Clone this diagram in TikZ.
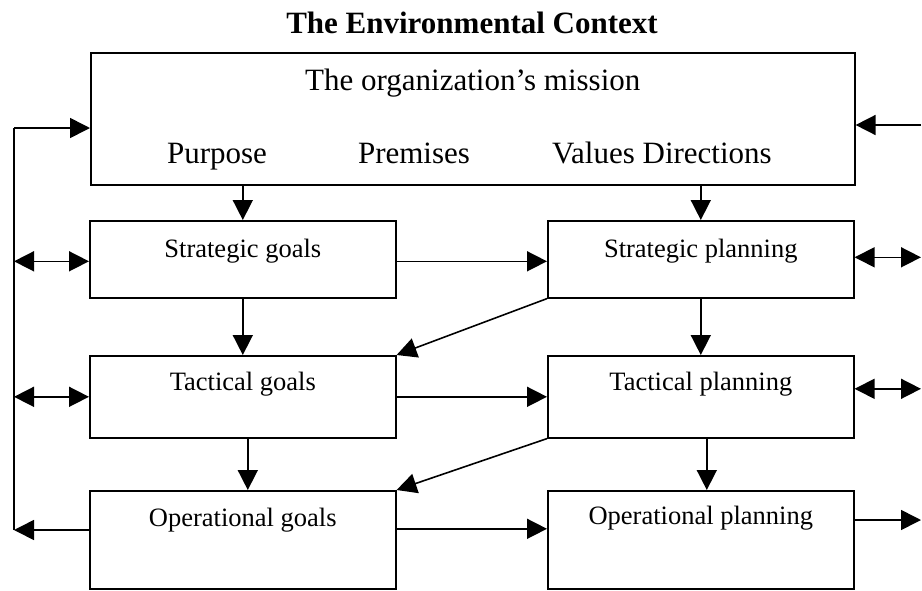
\documentclass[tikz,border=0pt]{standalone}
\usepackage{fontspec}
\setmainfont{Liberation Serif}
\usepackage{tikz}
\usetikzlibrary{arrows.meta}
\tikzset{>={Triangle[length=20pt,width=20pt]}}
\tikzstyle{bigtext} = [font=\fontsize{31}{36}\selectfont, inner sep=0pt]
\tikzstyle{plainbox} = [draw, line width=1.6pt, inner sep=0pt,
    minimum width=306pt, anchor=north west,
    font=\fontsize{26.5}{30}\selectfont]

\begin{document}
\begin{tikzpicture}[x=1pt, y=-1pt, line width=1.6pt]
    \useasboundingbox (0,0) rectangle (922,590);
    %title
    \node[bigtext, font=\fontsize{31}{36}\selectfont\bfseries, anchor=base] (title) at (472,33) {The Environmental Context};
    %mission
    \node[bigtext, draw, anchor=north west, minimum width=764pt,
        text height=38pt, text depth=94pt] (mission) at (90,52) {The organization’s mission};
    \node[bigtext, anchor=base] (purpose) at (217,163) {Purpose};
    \node[bigtext, anchor=base] (premises) at (414,163) {Premises};
    \node[bigtext, anchor=base] (values) at (662,163) {Values Directions};
    %boxes
    \node[plainbox, text height=37pt, text depth=40pt] (SG) at (89,220) {Strategic goals};
    \node[plainbox, text height=37pt, text depth=40pt] (SP) at (547,220) {Strategic planning};
    \node[plainbox, text height=35pt, text depth=47pt] (TG) at (89,355) {Tactical goals};
    \node[plainbox, text height=35pt, text depth=47pt] (TP) at (547,355) {Tactical planning};
    \node[plainbox, text height=36pt, text depth=62pt] (OG) at (89,490) {Operational goals};
    \node[plainbox, text height=34pt, text depth=64pt] (OP) at (547,490) {Operational planning};
    %arrows down
    \draw[->] (SG.north |- mission.south) -- (SG.north);
    \draw[->] (SP.north |- mission.south) -- (SP.north);
    \draw[->] (SG.south) -- (TG.north);
    \draw[->] (SP.south) -- (TP.north);
    \draw[->] ([xshift=5pt]TG.south) -- ([xshift=5pt]OG.north);
    \draw[->] ([xshift=6pt]TP.south) -- ([xshift=6pt]OP.north);
    %arrows across
    \draw[->] ([yshift=-2pt]SG.east) -- ([yshift=-2pt]SG.east -| SP.west);
    \draw[->] (TG.east) -- (TG.east -| TP.west);
    \draw[->] ([yshift=11pt]OG.east) -- ([yshift=11pt]OG.east -| OP.west);
    \draw[->] (SP.south west) -- (TG.north east);
    \draw[->] (TP.south west) -- (OG.north east);
    %left rail
    \coordinate (railtop) at (14,128);
    \coordinate (railbot) at (14,530);
    \draw (railbot) -- (railtop);
    \draw[->] (railtop) -- (railtop -| mission.west);
    \draw[<->] ([yshift=-2pt]SG.west -| railtop) -- ([yshift=-2pt]SG.west);
    \draw[<->] (TG.west -| railtop) -- (TG.west);
    \draw[->] (railbot -| OG.west) -- (railbot);
    %right side
    \coordinate (rin) at (921,125);
    \coordinate (rout) at (921,520);
    \draw[->] (rin) -- (rin -| mission.east);
    \draw[<->] ([yshift=2pt]SP.east) -- ([yshift=2pt]SP.east -| rin);
    \draw[<->] ([yshift=8pt]TP.east) -- ([yshift=8pt]TP.east -| rin);
    \draw[->] (rout -| OP.east) -- (rout);
\end{tikzpicture}
\end{document}
